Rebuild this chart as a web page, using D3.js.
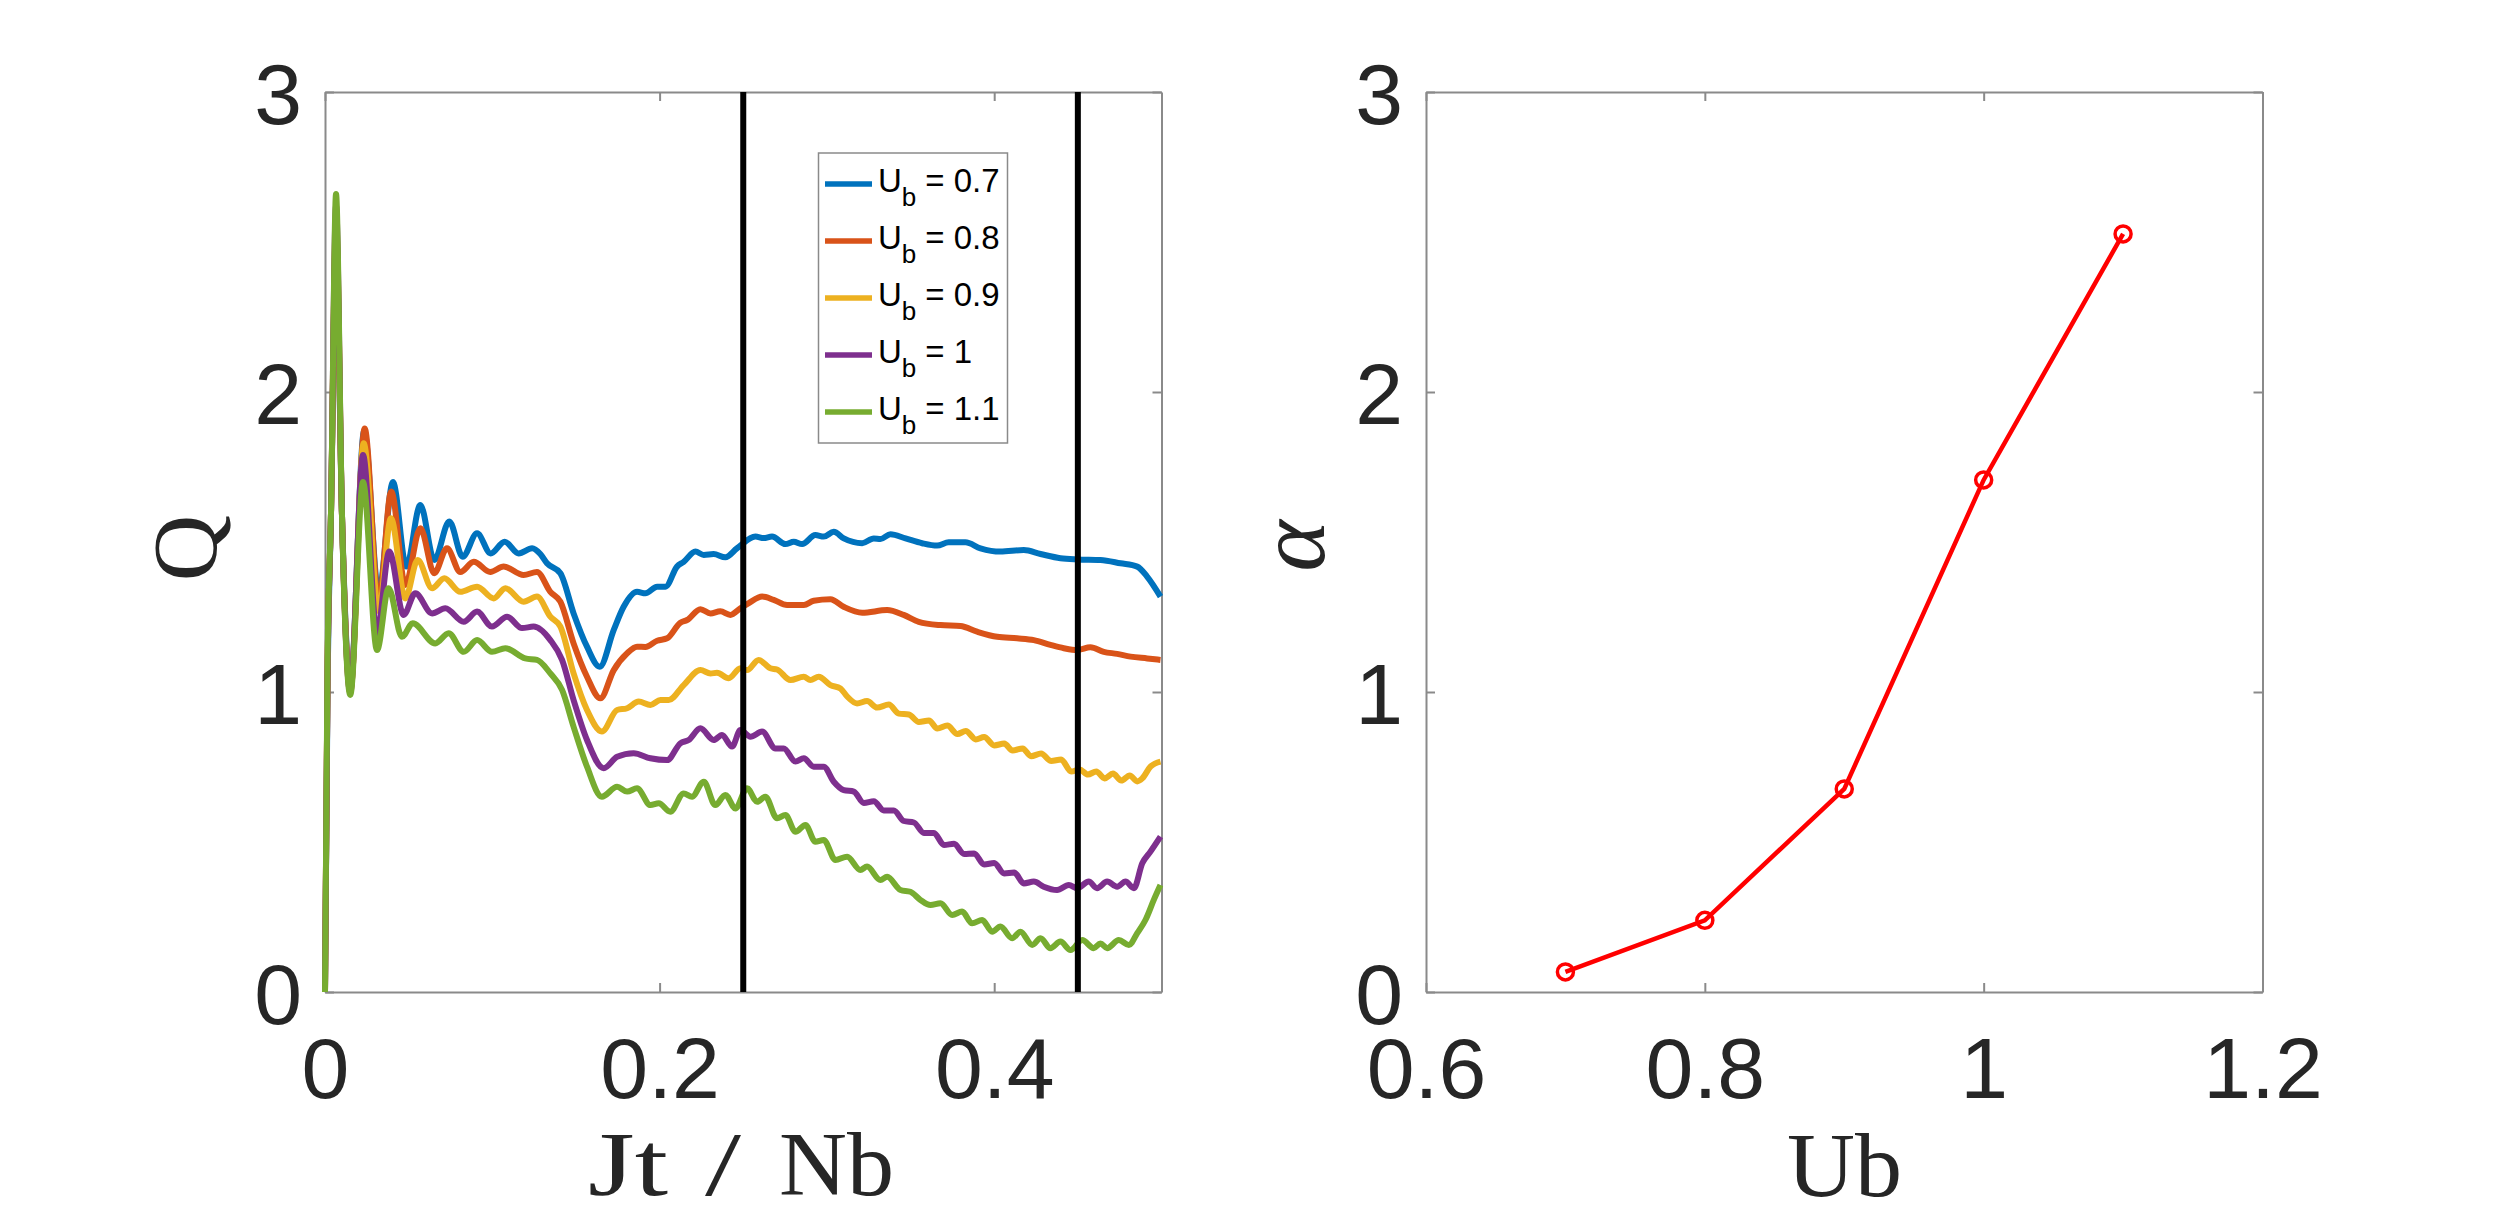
<!DOCTYPE html>
<html>
<head>
<meta charset="utf-8">
<script src="https://cdn.jsdelivr.net/npm/d3@7"></script>
<style>
  body { margin: 0; background: #fff; }
  svg { display: block; }
  .tick text { font-family: "Liberation Sans", Arial, sans-serif; font-size: 86px; fill: #262626; }
  .tick line, .domain { stroke: #8a8a8a; stroke-width: 2; }
  .axis-title { font-family: "Liberation Serif", "Times New Roman", serif; fill: #262626; }
  .legend text { font-family: "Liberation Sans", Arial, sans-serif; fill: #000; }
</style>
</head>
<body>
<svg id="fig"></svg>
<script>
const width = 2500, height = 1223;

// ---- data ----
// Q(t) for each Ub, as [Jt/Nb, Q]
const q_ub07 = [[0,0],[0.0015,1.0],[0.0036,1.6],[0.0066,2.5],[0.0101,1.6],[0.0151,1.02],[0.0234,1.87],[0.0321,1.33],[0.0406,1.70],[0.0486,1.418],[0.057,1.623],[0.0653,1.44],[0.0743,1.568],[0.0823,1.451],[0.0909,1.529],[0.099,1.462],[0.1074,1.501],[0.1158,1.462],[0.1238,1.479],[0.1287,1.46],[0.1327,1.429],[0.1407,1.396],[0.1486,1.262],[0.1566,1.151],[0.1642,1.084],[0.1726,1.207],[0.1785,1.284],[0.1865,1.334],[0.1915,1.329],[0.1985,1.351],[0.2035,1.351],[0.2104,1.418],[0.2144,1.434],[0.2214,1.468],[0.2264,1.457],[0.2323,1.46],[0.2393,1.449],[0.2463,1.479],[0.2573,1.518],[0.2622,1.513],[0.2672,1.518],[0.2752,1.493],[0.2802,1.501],[0.2852,1.493],[0.2931,1.523],[0.2981,1.518],[0.3041,1.534],[0.3101,1.512],[0.3211,1.496],[0.328,1.512],[0.332,1.51],[0.338,1.526],[0.347,1.512],[0.3569,1.496],[0.3659,1.488],[0.3728,1.499],[0.3828,1.499],[0.3918,1.479],[0.4037,1.468],[0.4177,1.473],[0.4277,1.46],[0.4396,1.446],[0.4496,1.442],[0.4635,1.44],[0.4755,1.429],[0.4855,1.418],[0.4915,1.384],[0.4994,1.318]];
const q_ub08 = [[0,0],[0.0015,1.05],[0.0036,1.6],[0.0066,2.55],[0.0101,1.6],[0.0151,1.01],[0.0237,1.878],[0.0321,1.30],[0.0396,1.668],[0.048,1.357],[0.057,1.546],[0.0653,1.396],[0.0729,1.479],[0.0809,1.40],[0.0889,1.434],[0.0988,1.40],[0.1068,1.418],[0.1187,1.39],[0.1267,1.40],[0.1347,1.334],[0.1407,1.301],[0.1486,1.162],[0.1566,1.051],[0.1646,0.979],[0.1726,1.073],[0.1806,1.129],[0.1865,1.151],[0.1915,1.15],[0.1985,1.171],[0.2045,1.179],[0.2124,1.231],[0.2164,1.24],[0.2244,1.276],[0.2304,1.262],[0.2363,1.269],[0.2423,1.257],[0.2483,1.279],[0.2533,1.296],[0.2613,1.318],[0.2682,1.307],[0.2762,1.29],[0.2862,1.29],[0.2921,1.304],[0.3021,1.309],[0.31,1.284],[0.3211,1.264],[0.336,1.273],[0.3459,1.257],[0.3549,1.234],[0.3679,1.223],[0.3798,1.22],[0.3898,1.201],[0.4018,1.184],[0.4137,1.179],[0.4237,1.173],[0.4336,1.157],[0.4416,1.146],[0.4496,1.14],[0.4575,1.149],[0.4655,1.134],[0.4735,1.127],[0.4815,1.118],[0.4915,1.112],[0.4994,1.107]];
const q_ub09 = [[0,0],[0.0015,1.05],[0.0036,1.6],[0.0066,2.58],[0.0101,1.6],[0.0151,1.0],[0.0231,1.829],[0.0321,1.27],[0.0394,1.579],[0.048,1.312],[0.0554,1.44],[0.064,1.346],[0.0713,1.379],[0.0809,1.334],[0.0909,1.351],[0.1008,1.312],[0.1078,1.346],[0.1187,1.301],[0.1267,1.318],[0.1347,1.251],[0.1407,1.218],[0.1486,1.062],[0.1566,0.94],[0.1655,0.868],[0.1746,0.94],[0.1806,0.946],[0.1875,0.968],[0.1945,0.957],[0.2005,0.973],[0.2054,0.973],[0.2144,1.023],[0.2244,1.073],[0.2304,1.062],[0.2343,1.064],[0.2413,1.046],[0.2483,1.079],[0.2523,1.073],[0.2592,1.107],[0.2662,1.079],[0.2702,1.075],[0.2782,1.04],[0.2862,1.051],[0.2901,1.04],[0.2951,1.051],[0.3021,1.023],[0.3081,1.012],[0.3121,0.985],[0.318,0.962],[0.324,0.97],[0.330,0.948],[0.337,0.958],[0.343,0.928],[0.349,0.925],[0.355,0.90],[0.361,0.905],[0.366,0.878],[0.372,0.888],[0.378,0.86],[0.383,0.87],[0.389,0.842],[0.394,0.85],[0.400,0.822],[0.406,0.828],[0.411,0.805],[0.417,0.812],[0.422,0.786],[0.428,0.795],[0.434,0.77],[0.440,0.775],[0.446,0.735],[0.451,0.742],[0.456,0.725],[0.461,0.735],[0.466,0.712],[0.471,0.728],[0.476,0.705],[0.481,0.722],[0.4855,0.702],[0.4885,0.712],[0.4934,0.751],[0.4994,0.768]];
const q_ub10 = [[0,0],[0.0015,1.05],[0.0036,1.6],[0.0066,2.62],[0.0101,1.6],[0.0151,1.0],[0.0227,1.79],[0.0311,1.196],[0.0384,1.468],[0.047,1.257],[0.054,1.329],[0.064,1.262],[0.0719,1.279],[0.0829,1.234],[0.0909,1.268],[0.0998,1.218],[0.1088,1.251],[0.1178,1.213],[0.1247,1.218],[0.1347,1.173],[0.1417,1.107],[0.1486,0.973],[0.1566,0.84],[0.1666,0.746],[0.1746,0.784],[0.1845,0.796],[0.1945,0.779],[0.2045,0.773],[0.2124,0.829],[0.2174,0.84],[0.2244,0.879],[0.2323,0.84],[0.2373,0.857],[0.2433,0.818],[0.2483,0.873],[0.2543,0.851],[0.2613,0.868],[0.2692,0.812],[0.2742,0.812],[0.2812,0.768],[0.2862,0.779],[0.2921,0.751],[0.2981,0.751],[0.3041,0.701],[0.3101,0.673],[0.3161,0.668],[0.3221,0.63],[0.328,0.636],[0.334,0.605],[0.34,0.605],[0.346,0.57],[0.352,0.565],[0.358,0.53],[0.364,0.53],[0.370,0.49],[0.376,0.494],[0.382,0.46],[0.388,0.462],[0.394,0.425],[0.400,0.43],[0.406,0.395],[0.412,0.398],[0.4177,0.362],[0.4237,0.368],[0.4296,0.351],[0.4376,0.34],[0.4446,0.357],[0.4496,0.346],[0.4565,0.368],[0.4615,0.346],[0.4675,0.368],[0.4735,0.351],[0.4785,0.368],[0.4835,0.346],[0.4885,0.429],[0.4934,0.468],[0.4994,0.518]];
const q_ub11 = [[0,0],[0.0015,1.1],[0.0036,1.6],[0.0066,2.66],[0.0101,1.6],[0.0151,0.99],[0.0227,1.70],[0.0311,1.14],[0.038,1.346],[0.046,1.184],[0.0524,1.229],[0.0659,1.162],[0.0739,1.196],[0.0829,1.134],[0.0909,1.173],[0.0998,1.134],[0.1078,1.146],[0.1197,1.112],[0.1267,1.107],[0.1347,1.062],[0.1417,1.007],[0.1486,0.884],[0.1566,0.751],[0.1655,0.651],[0.1746,0.684],[0.1806,0.668],[0.1865,0.679],[0.1945,0.623],[0.1995,0.629],[0.2064,0.601],[0.2144,0.662],[0.2194,0.651],[0.2264,0.701],[0.2333,0.623],[0.2393,0.657],[0.2453,0.612],[0.2523,0.679],[0.2583,0.634],[0.2632,0.651],[0.2702,0.579],[0.2752,0.59],[0.2812,0.534],[0.2872,0.557],[0.2931,0.501],[0.2981,0.507],[0.3051,0.44],[0.3121,0.451],[0.32,0.407],[0.324,0.418],[0.332,0.373],[0.336,0.384],[0.344,0.34],[0.3499,0.334],[0.3559,0.307],[0.3619,0.29],[0.3679,0.296],[0.3749,0.257],[0.3808,0.268],[0.3868,0.229],[0.3928,0.24],[0.3988,0.201],[0.4037,0.218],[0.4107,0.179],[0.4157,0.201],[0.4227,0.157],[0.4277,0.179],[0.4336,0.146],[0.4396,0.168],[0.4456,0.14],[0.4526,0.173],[0.4595,0.146],[0.4635,0.162],[0.4675,0.146],[0.4745,0.173],[0.4805,0.157],[0.4855,0.196],[0.4904,0.24],[0.4954,0.307],[0.4994,0.357]];

const q_series = [q_ub07, q_ub08, q_ub09, q_ub10, q_ub11];
const legend_labels = ["0.7", "0.8", "0.9", "1", "1.1"];
const series_colors = ["#0072BD", "#D95319", "#EDB120", "#7E2F8E", "#77AC30"];
const window_lines = [0.25, 0.45];

// alpha vs Ub
const ub_values = [0.7, 0.8, 0.9, 1.0, 1.1];
const alpha_values = [0.067, 0.239, 0.677, 1.707, 2.527];

// ticks
const q_xticks = [0, 0.2, 0.4];
const q_yticks = [0, 1, 2, 3];
const ub_xticks = [0.6, 0.8, 1, 1.2];
const alpha_yticks = [0, 1, 2, 3];

// ---- layout ----
const left_box = {x0: 325, x1: 1161.5, y0: 92, y1: 992};
const right_box = {x0: 1426, x1: 2262.5, y0: 92, y1: 992};
const tick_len = 9;

const svg = d3.select("#fig").attr("width", width).attr("height", height);
svg.append("rect").attr("width", width).attr("height", height).attr("fill", "#fff");

function draw_axes(box, xs, ys, xticks, yticks) {
    const g = svg.append("g");
    g.append("g")
        .attr("transform", `translate(0,${box.y1})`)
        .call(d3.axisBottom(xs).tickValues(xticks).tickSizeInner(-tick_len).tickSizeOuter(0)
            .tickPadding(45).tickFormat(d3.format("~g")))
        .selectAll("text").attr("dy", "0.71em");
    g.append("g")
        .attr("transform", `translate(${box.x0},0)`)
        .call(d3.axisLeft(ys).tickValues(yticks).tickSizeInner(-tick_len).tickSizeOuter(0)
            .tickPadding(23).tickFormat(d3.format("~g")))
        .selectAll("text").attr("dy", "0.37em");
    // box: top and right edges with inward ticks, no labels
    g.append("g")
        .attr("transform", `translate(0,${box.y0})`)
        .call(d3.axisTop(xs).tickValues(xticks).tickSizeInner(-tick_len).tickSizeOuter(0).tickFormat(""));
    g.append("g")
        .attr("transform", `translate(${box.x1},0)`)
        .call(d3.axisRight(ys).tickValues(yticks).tickSizeInner(-tick_len).tickSizeOuter(0).tickFormat(""));
    return g;
}

// ---- left panel ----
const xq = d3.scaleLinear().domain([0, 0.5]).range([left_box.x0, left_box.x1]);
const yq = d3.scaleLinear().domain([0, 3]).range([left_box.y1, left_box.y0]);
draw_axes(left_box, xq, yq, q_xticks, q_yticks);

const q_line = d3.line()
    .x(d => xq(d[0]))
    .y(d => yq(d[1]))
    .curve(d3.curveMonotoneX);

svg.append("g")
    .selectAll("path")
    .data(q_series)
    .join("path")
      .attr("d", q_line)
      .attr("fill", "none")
      .attr("stroke", (d, i) => series_colors[i])
      .attr("stroke-width", 6)
      .attr("stroke-linejoin", "round");

svg.append("g")
    .selectAll("line")
    .data(window_lines)
    .join("line")
      .attr("x1", d => xq(d)).attr("x2", d => xq(d))
      .attr("y1", yq(0)).attr("y2", yq(3))
      .attr("stroke", "#000")
      .attr("stroke-width", 6);

// legend
const legend = svg.append("g").attr("class", "legend");
legend.append("rect")
    .attr("x", 818.5).attr("y", 153)
    .attr("width", 189).attr("height", 290)
    .attr("fill", "#fff")
    .attr("stroke", "#8a8a8a")
    .attr("stroke-width", 1.5);
const entries = legend.selectAll("g.entry")
    .data(legend_labels)
    .join("g")
      .attr("class", "entry")
      .attr("transform", (d, i) => `translate(0,${184 + i * 57})`);
entries.append("line")
    .attr("x1", 825).attr("x2", 872)
    .attr("stroke", (d, i) => series_colors[i])
    .attr("stroke-width", 5.5);
const lt = entries.append("text").attr("x", 878).attr("y", 8).attr("font-size", 33);
lt.append("tspan").text("U");
lt.append("tspan").attr("font-size", 26).attr("dy", 14).text("b");
lt.append("tspan").attr("dy", -14).attr("dx", 9).text(d => "= " + d);

// axis titles
const jt = svg.append("text").attr("class", "axis-title")
    .attr("font-size", 90).attr("y", 1195);
jt.append("tspan").attr("x", 588).attr("textLength", 80).attr("lengthAdjust", "spacingAndGlyphs").text("Jt");
jt.append("tspan").attr("x", 705).attr("textLength", 36).attr("lengthAdjust", "spacingAndGlyphs").text("/");
jt.append("tspan").attr("x", 779).attr("textLength", 115).attr("lengthAdjust", "spacingAndGlyphs").text("Nb");

svg.append("text").attr("class", "axis-title")
    .attr("font-size", 92)
    .attr("text-anchor", "middle")
    .attr("transform", "translate(216,548) rotate(-90)")
    .text("Q");

// ---- right panel ----
const xu = d3.scaleLinear().domain([0.6, 1.2]).range([right_box.x0, right_box.x1]);
const ya = d3.scaleLinear().domain([0, 3]).range([right_box.y1, right_box.y0]);
draw_axes(right_box, xu, ya, ub_xticks, alpha_yticks);

const alpha_pts = ub_values.map((u, i) => [u, alpha_values[i]]);
svg.append("path")
    .datum(alpha_pts)
    .attr("d", d3.line().x(d => xu(d[0])).y(d => ya(d[1])))
    .attr("fill", "none")
    .attr("stroke", "#FF0000")
    .attr("stroke-width", 4.5);
svg.append("g")
    .selectAll("circle")
    .data(alpha_pts)
    .join("circle")
      .attr("cx", d => xu(d[0]))
      .attr("cy", d => ya(d[1]))
      .attr("r", 8)
      .attr("fill", "none")
      .attr("stroke", "#FF0000")
      .attr("stroke-width", 3.5);

const ub_t = svg.append("text").attr("class", "axis-title")
    .attr("font-size", 90).attr("y", 1196);
ub_t.append("tspan").attr("x", 1787).attr("textLength", 115).attr("lengthAdjust", "spacingAndGlyphs").text("Ub");

svg.append("text").attr("class", "axis-title")
    .attr("font-size", 98)
    .attr("font-style", "italic")
    .attr("text-anchor", "middle")
    .attr("transform", "translate(1324,546) rotate(-90)")
    .text("α");
</script>
</body>
</html>
